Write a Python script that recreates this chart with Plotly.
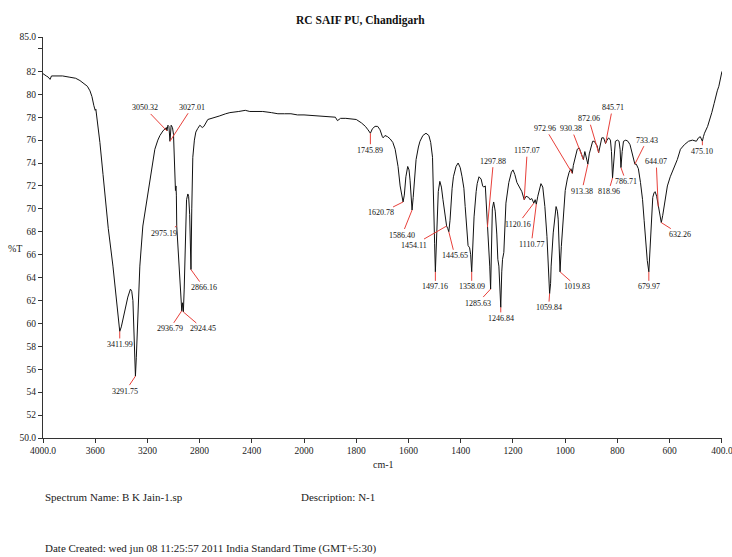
import numpy as np
import plotly.graph_objects as go

# ---------------- data ----------------
wavenumber = [
    4000, 3990, 3975, 3960, 3946, 3935, 3900, 3850, 3800, 3750, 3717, 3690, 3660, 3640, 3625, 3610,
    3600, 3595, 3585, 3564, 3540, 3520, 3500, 3464, 3440, 3426, 3411.99, 3400, 3385, 3372, 3350,
    3330, 3320, 3311, 3302, 3296, 3291.75, 3285, 3273, 3258, 3235, 3204, 3181, 3160, 3143, 3120,
    3104, 3081, 3065, 3055, 3050.32, 3043, 3035, 3027.01, 3018, 3008, 3000, 2995, 2990, 2985, 2981,
    2978, 2975.19, 2965, 2950, 2940, 2936.79, 2931, 2924.45, 2918, 2910, 2900, 2890, 2884, 2876,
    2866.16, 2860, 2852, 2840, 2829, 2815, 2798, 2780, 2767, 2737, 2700, 2683, 2650, 2600, 2568,
    2500, 2450, 2415, 2350, 2316, 2250, 2200, 2150, 2100, 2050, 2033, 2000,
    1950, 1900, 1880, 1872, 1860, 1840, 1800, 1780, 1765, 1755, 1745.89, 1738, 1728, 1718, 1709,
    1700, 1697, 1690, 1680, 1670, 1660, 1651, 1640, 1632, 1626, 1620.78, 1616, 1610, 1603, 1598,
    1594, 1590, 1586.40, 1582, 1577, 1571, 1562, 1556, 1545, 1533, 1522, 1515, 1508, 1503, 1500,
    1497.16, 1494, 1491, 1486, 1480, 1474, 1468, 1462, 1456, 1454.11, 1450, 1445.65, 1441, 1437,
    1433, 1428, 1418, 1410, 1402, 1395, 1388, 1383, 1377, 1372, 1366, 1362, 1358.09, 1354, 1349,
    1341, 1337, 1330, 1322, 1316, 1312, 1306, 1302, 1297.88, 1294, 1289, 1285.63, 1282, 1279,
    1274, 1268, 1262, 1258, 1254, 1250, 1246.84, 1243, 1240, 1235, 1230, 1227, 1216, 1206, 1200,
    1193, 1185, 1177, 1166, 1157.07, 1150, 1140, 1135, 1128, 1120.16, 1115, 1110.77, 1105, 1097,
    1093, 1086, 1078, 1070, 1064, 1059.84, 1056, 1054, 1046, 1038, 1035, 1030, 1027, 1023,
    1019.83, 1015, 1007, 1000, 992, 985, 978, 972.96, 969, 961, 954, 946, 940, 935, 930.38, 925,
    920, 913.38, 908, 902, 895, 889, 884, 878, 872.06, 866, 860, 853, 845.71, 840, 834, 827, 823,
    818.96, 814, 808, 800, 794, 790, 786.71, 782, 777, 768, 760, 752, 745, 738, 733.43, 728, 720,
    712, 704, 698, 692, 686, 679.97, 676, 670, 665, 660, 656, 650, 644.07, 638, 632.26, 627, 621,
    609, 598, 582, 571, 559, 544, 528, 513, 498, 490, 483, 479, 475.10, 471, 467, 455, 445, 439,
    430, 424, 418, 412, 406, 400,
]
transmittance = [
    81.8, 81.7, 81.6, 81.5, 81.3, 81.6, 81.6, 81.6, 81.5, 81.4, 81.2, 81.0, 80.7, 80.3, 79.8, 79.0,
    78.6, 78.7, 77.8, 75.8, 73.0, 70.5, 68.3, 65.0, 62.2, 60.3, 59.3, 59.7, 60.5, 61.3, 62.3,
    63.0, 62.8, 62.0, 59.0, 56.5, 55.4, 57.0, 60.0, 65.0, 68.5, 70.8, 72.5, 74.2, 75.2, 76.0,
    76.4, 76.8, 77.0, 77.1, 76.8, 77.3, 77.2, 75.9, 77.3, 77.1, 76.5, 74.0, 72.5, 71.6, 72.0,
    71.2, 68.5, 66.5, 63.5, 61.5, 61.1, 61.8, 61.0, 63.0, 68.0, 70.8, 71.3, 71.1, 69.5,
    64.7, 70.0, 74.5, 76.0, 76.7, 77.0, 77.3, 77.1, 77.2, 77.8, 77.9, 78.0, 78.1, 78.3, 78.4,
    78.5, 78.6, 78.5, 78.5, 78.5, 78.4, 78.3, 78.3, 78.3, 78.2, 78.2, 78.2,
    78.1, 78.0, 78.0, 77.7, 77.9, 77.9, 77.8, 77.5, 77.2, 76.9, 76.6, 77.0, 77.2, 77.2, 76.9,
    76.3, 76.2, 76.4, 76.3, 76.1, 75.8, 75.2, 73.7, 72.0, 71.0, 70.6, 71.2, 72.8, 73.7, 73.4,
    72.5, 71.0, 69.9, 71.0, 72.8, 74.3, 75.4, 75.9, 76.4, 76.6, 76.4, 75.8, 74.5, 71.0, 67.0,
    64.5, 66.5, 69.3, 71.5, 72.4, 71.9, 70.8, 69.8, 68.7, 68.5, 68.3, 68.0, 69.0, 70.6,
    71.8, 72.8, 73.7, 74.0, 73.6, 72.8, 71.8, 70.2, 68.5, 66.8, 66.6, 66.0, 64.5, 66.5, 69.3,
    71.5, 72.2, 72.8, 72.6, 72.0, 71.9, 72.0, 70.5, 68.4, 67.5, 65.0, 63.0, 66.5, 70.0,
    70.6, 69.8, 67.8, 65.6, 65.0, 63.5, 61.4, 64.5, 65.6, 66.2, 68.5, 70.5, 72.3, 73.2, 73.4,
    73.0, 72.3, 71.9, 71.5, 70.8, 71.1, 71.0, 70.8, 70.9, 70.5, 70.8, 70.4, 71.1, 72.0,
    72.2, 71.9, 70.2, 67.6, 65.0, 62.6, 63.5, 65.0, 67.9, 69.7, 70.2, 69.8, 69.1, 66.5,
    64.5, 66.7, 69.9, 71.6, 72.6, 73.2, 73.5, 73.1, 73.8, 74.5, 75.2, 75.3, 74.9, 74.6, 74.3, 75.0,
    74.6, 73.9, 74.8, 75.4, 75.9, 75.9, 75.7, 75.5, 74.9, 75.6, 76.2, 76.2, 75.7, 76.0, 76.2, 76.0, 75.0,
    72.7, 74.5, 75.9, 76.0, 75.9, 75.2, 73.6, 75.0, 75.9, 76.0, 75.9, 75.6, 74.9, 74.4, 73.9, 73.9, 73.5,
    72.3, 70.8, 69.0, 67.0, 65.5, 64.5, 66.5, 69.5, 71.0, 71.4, 71.5, 71.1, 70.2, 69.6, 68.8, 69.4, 70.2,
    72.0, 72.8, 73.7, 74.3, 75.2, 75.6, 75.9, 76.0, 75.9, 76.2, 76.3, 76.1, 75.9, 76.3, 76.6, 77.2, 77.9, 78.4,
    79.2, 79.8, 80.3, 80.7, 81.3, 82.0,
]

peak_wavenumbers = [3411.99, 3291.75, 3050.32, 3027.01, 2975.19, 2936.79, 2924.45, 2866.16,
                    1745.89, 1620.78, 1586.40, 1497.16, 1454.11, 1445.65, 1358.09, 1297.88,
                    1285.63, 1246.84, 1157.07, 1120.16, 1110.77, 1059.84, 1019.83, 972.96,
                    930.38, 913.38, 872.06, 845.71, 818.96, 786.71, 733.43, 679.97, 644.07,
                    632.26, 475.10]
peak_labels = ["3411.99", "3291.75", "3050.32", "3027.01", "2975.19", "2936.79", "2924.45", "2866.16",
               "1745.89", "1620.78", "1586.40", "1497.16", "1454.11", "1445.65", "1358.09", "1297.88",
               "1285.63", "1246.84", "1157.07", "1120.16", "1110.77", "1059.84", "1019.83", "972.96",
               "930.38", "913.38", "872.06", "845.71", "818.96", "786.71", "733.43", "679.97", "644.07",
               "632.26", "475.10"]
# label offsets in pixels (layout only)
label_dx = [0, -10, -22, 22, -13, -12, 20, 13,
            0, -22, -10, 0, -33, 6, 0, 6,
            -13, 0, 3, -16, -5, -1, 17, -27,
            -12, -6, -10, 7, -4, 5, 12, 0, -2,
            19, 0]
label_dy = [13, 15, -23, -34, 7, 18, 17, 18,
            17, 11, 25, 15, 19, 24, 15, -66,
            14, 11, -49, 21, 40, 14, 15, -45,
            -31, 27, -34, -36, 14, 14, -24, 15, -45,
            12, 10]

y_tickvals = [50, 52, 54, 56, 58, 60, 62, 64, 66, 68, 70, 72, 74, 76, 78, 80, 82, 84, 85]
y_ticktext = ["50.0", "52", "54", "56", "58", "60", "62", "64", "66", "68", "70", "72", "74",
              "76", "78", "80", "82", "", "85.0"]
x_hi_tickvals = [4000, 3600, 3200, 2800, 2400]
x_hi_ticktext = ["4000.0", "3600", "3200", "2800", "2400"]
x_lo_tickvals = [2000, 1800, 1600, 1400, 1200, 1000, 800, 600, 400]
x_lo_ticktext = ["2000", "1800", "1600", "1400", "1200", "1000", "800", "600", "400.0"]

# ---------------- figure ----------------
wn = np.array(wavenumber, dtype=float)
tr = np.array(transmittance, dtype=float)
hi = wn >= 2000
lo = wn <= 2000

SERIF = "Liberation Serif, Times New Roman, serif"
split = (304 - 43) / 679.0

fig = go.Figure()
fig.add_trace(go.Scatter(x=wn[hi], y=tr[hi], mode="lines", xaxis="x", yaxis="y",
                         line=dict(color="#111111", width=1), hoverinfo="skip", showlegend=False))
fig.add_trace(go.Scatter(x=wn[lo], y=tr[lo], mode="lines", xaxis="x2", yaxis="y",
                         line=dict(color="#111111", width=1), hoverinfo="skip", showlegend=False))

order = np.argsort(wn)
annotations = []
for w, lab, dx, dy in zip(peak_wavenumbers, peak_labels, label_dx, label_dy):
    yv = float(np.interp(w, wn[order], tr[order]))
    annotations.append(dict(
        x=w, y=yv, xref="x" if w >= 2000 else "x2", yref="y",
        text=lab, showarrow=True, arrowhead=0, arrowwidth=1, arrowcolor="#e8403a",
        ax=dx, ay=dy, axref="pixel", ayref="pixel", standoff=0,
        font=dict(family=SERIF, size=8, color="#111111"),
    ))


def px_x(p):
    return (p - 43) / 679.0


def px_y(p):
    return (438 - p) / 401.0


common_axis = dict(showline=True, linecolor="#333333", linewidth=1, ticks="outside",
                   ticklen=4, tickcolor="#333333", showgrid=False, zeroline=False,
                   automargin=False, ticklabeloverflow="allow",
                   tickfont=dict(family=SERIF, size=9.5, color="#222222"))

text_font = dict(family=SERIF, size=11, color="#222222")
fig.update_layout(
    width=732, height=557,
    margin=dict(l=43, r=10, t=37, b=119, autoexpand=False),
    paper_bgcolor="white", plot_bgcolor="white",
    xaxis=dict(domain=[0, split], range=[4000, 2000], tickmode="array",
               tickvals=x_hi_tickvals, ticktext=x_hi_ticktext, anchor="y", **common_axis),
    xaxis2=dict(domain=[split, 1], range=[2000, 399.9], tickmode="array",
                tickvals=x_lo_tickvals, ticktext=x_lo_ticktext, anchor="y", **common_axis),
    yaxis=dict(range=[50, 85], tickmode="array", tickvals=y_tickvals, ticktext=y_ticktext,
               anchor="x", **common_axis),
    annotations=annotations + [
        dict(text="<b>RC SAIF PU, Chandigarh</b>", xref="paper", yref="paper",
             x=px_x(360), y=px_y(20), xanchor="center", yanchor="middle", showarrow=False,
             font=dict(family=SERIF, size=11.5, color="#111111")),
        dict(text="%T", xref="paper", yref="paper", x=px_x(15), y=px_y(248),
             xanchor="center", yanchor="middle", showarrow=False,
             font=dict(family=SERIF, size=10, color="#222222")),
        dict(text="cm-1", xref="paper", yref="paper", x=px_x(383), y=px_y(464),
             xanchor="center", yanchor="middle", showarrow=False,
             font=dict(family=SERIF, size=10, color="#222222")),
        dict(text="Spectrum Name: B K Jain-1.sp", xref="paper", yref="paper", x=0,
             xanchor="left", y=px_y(497), yanchor="middle", showarrow=False, font=text_font),
        dict(text="Description: N-1", xref="paper", yref="paper", x=px_x(299),
             xanchor="left", y=px_y(497), yanchor="middle", showarrow=False, font=text_font),
        dict(text="Date Created: wed jun 08 11:25:57 2011 India Standard Time (GMT+5:30)",
             xref="paper", yref="paper", x=0, xanchor="left", y=px_y(548), yanchor="middle",
             showarrow=False, font=text_font),
    ],
)

fig.write_html("out.html", config={"displayModeBar": False},
               post_script="document.body.style.margin='0';")
